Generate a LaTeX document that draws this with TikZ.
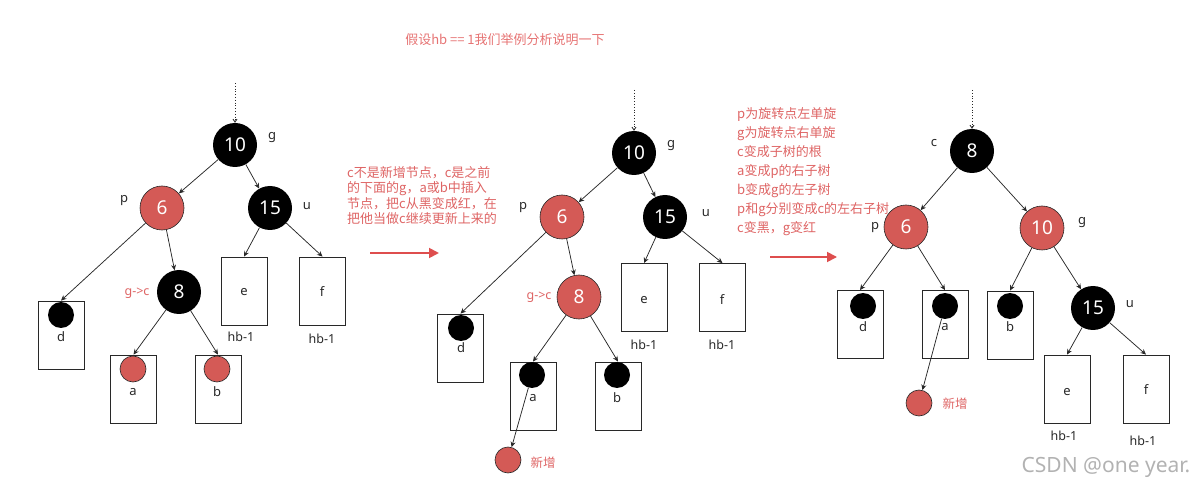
\documentclass[tikz,border=0pt]{standalone}
\usepackage{fontspec}
\setmainfont{Noto Sans}
\newfontfamily\cjk{Noto Sans CJK SC}
\usetikzlibrary{arrows.meta}
\definecolor{nodered}{RGB}{212,90,86}
\definecolor{txtred}{RGB}{222,100,100}
\definecolor{titlered}{RGB}{230,115,115}
\definecolor{arrred}{RGB}{222,78,78}
\definecolor{edge}{RGB}{40,40,40}
\begin{document}
\begin{tikzpicture}[x=1pt,y=-1pt,
  bnode/.style={circle,fill=black,minimum size=44pt,inner sep=0pt,text=white,font=\fontsize{19}{22}\selectfont},
  rnode/.style={circle,fill=nodered,draw=edge,line width=0.6pt,minimum size=44pt,inner sep=0pt,text=white,font=\fontsize{19}{22}\selectfont},
  bleaf/.style={circle,fill=black,minimum size=26pt,inner sep=0pt},
  rleaf/.style={circle,fill=nodered,draw=edge,line width=0.6pt,minimum size=26pt,inner sep=0pt},
  sub/.style={rectangle,draw=edge,line width=0.8pt,minimum width=46pt,minimum height=68pt,inner sep=0pt},
  lab/.style={font=\fontsize{13}{15}\selectfont,text=edge,inner sep=0pt},
  hlab/.style={font=\fontsize{12.5}{15}\selectfont,text=edge,inner sep=0pt},
  rlab/.style={font=\fontsize{12.5}{15}\selectfont,text=txtred,inner sep=0pt},
  conn/.style={draw=edge,line width=0.75pt,-{Stealth[length=5.5pt,width=5pt]}},
  topin/.style={draw=edge,line width=0.8pt,dotted,-{Straight Barb[length=3pt,width=4pt]}},
  bigarr/.style={draw=arrred,line width=1.8pt,-{Triangle[length=10pt,width=10pt]}},
  note/.style={font=\cjk\fontsize{13}{15.5}\selectfont,text=txtred,align=left,inner sep=0pt,anchor=north west}
]
\useasboundingbox (0,0) rectangle (1195,489);

% title
\node[font=\cjk\fontsize{13}{15}\selectfont,text=titlered] (title) at (505,40) {假设hb == 1我们举例分析说明一下};

% ---------------- tree 1 ----------------
\coordinate (top1) at (235,83);
\node[bnode] (a10) at (235,145) {10};
\node[rnode] (a6) at (162,208) {6};
\node[bnode] (a15) at (270,208) {15};
\node[bnode] (a8) at (179,292) {8};
\node[lab] (ag) at (272,138) {g};
\node[lab] (ap) at (124,201) {p};
\node[lab] (au) at (307,206) {u};
\node[rlab] (agc) at (137,293) {g->c};
\node[sub] (adbox) at (61,335) {};
\node[sub] (aabox) at (133.5,389) {};
\node[sub] (abbox) at (218,389) {};
\node[sub] (aebox) at (244,291) {};
\node[sub] (afbox) at (322.5,291) {};
\node[bleaf] (adc) at (61,315) {};
\node[rleaf] (aac) at (133,369) {};
\node[rleaf] (abc) at (217,369) {};
\node[lab] (adl) at (61,337) {d};
\node[lab] (aal) at (133,392) {a};
\node[lab] (abl) at (217,392) {b};
\node[lab] (ael) at (244,292) {e};
\node[lab] (afl) at (322,292) {f};
\node[hlab] (ah1) at (241,337) {hb-1};
\node[hlab] (ah2) at (322,339) {hb-1};
\draw[topin] (top1) -- (a10);
\draw[conn] (a10) -- (a6);
\draw[conn] (a10) -- (a15);
\draw[conn] (a6) -- (adbox.north);
\draw[conn] (a6) -- (a8);
\draw[conn] (a8) -- (aabox.north);
\draw[conn] (a8) -- (abbox.north);
\draw[conn] (a15) -- (aebox.north);
\draw[conn] (a15) -- (afbox.north);

% note 1 and arrow
\node[note] (note1) at (347,166) {c不是新增节点，c是之前\\的下面的g，a或b中插入\\节点，把c从黑变成红，在\\把他当做c继续更新上来的};
\coordinate (arr1s) at (370,253);
\coordinate (arr1e) at (439,253);
\draw[bigarr] (arr1s) -- (arr1e);

% ---------------- tree 2 ----------------
\coordinate (top2) at (634,90);
\node[bnode] (b10) at (634,153) {10};
\node[rnode] (b6) at (562,217) {6};
\node[bnode] (b15) at (665,217) {15};
\node[rnode] (b8) at (579,297) {8};
\node[lab] (bg) at (671,146) {g};
\node[lab] (bp) at (523,208) {p};
\node[lab] (bu) at (706,213) {u};
\node[rlab] (bgc) at (539,297) {g->c};
\node[sub] (bdbox) at (460.5,348) {};
\node[sub] (babox) at (533,396) {};
\node[sub] (bbbox) at (618,396) {};
\node[sub] (bebox) at (644,297.5) {};
\node[sub] (bfbox) at (722.5,297.5) {};
\node[bleaf] (bdc) at (461,328) {};
\node[bleaf] (bac) at (532,375) {};
\node[bleaf] (bbc) at (617,375) {};
\node[lab] (bdl) at (461,348) {d};
\node[lab] (bal) at (533,398) {a};
\node[lab] (bbl) at (617,398) {b};
\node[lab] (bel) at (644,300) {e};
\node[lab] (bfl) at (722,300) {f};
\node[hlab] (bh1) at (644,345) {hb-1};
\node[hlab] (bh2) at (722,345) {hb-1};
\node[rleaf] (bnew) at (508,460) {};
\node[font=\cjk\fontsize{12.5}{15}\selectfont,text=txtred,inner sep=0pt] (bnewl) at (543,463) {新增};
\draw[topin] (top2) -- (b10);
\draw[conn] (b10) -- (b6);
\draw[conn] (b10) -- (b15);
\draw[conn] (b6) -- (bdbox.north);
\draw[conn] (b6) -- (b8);
\draw[conn] (b8) -- (babox.north);
\draw[conn] (b8) -- (bbbox.north);
\draw[conn] (b15) -- (bebox.north);
\draw[conn] (b15) -- (bfbox.north);
\draw[conn] (bac) -- (bnew);

% note 2 and arrow
\node[note,font=\cjk\fontsize{13}{19}\selectfont] (note2) at (737,107) {p为旋转点左单旋\\g为旋转点右单旋\\c变成子树的根\\a变成p的右子树\\b变成g的左子树\\p和g分别变成c的左右子树\\c变黑，g变红};
\coordinate (arr2s) at (770,257);
\coordinate (arr2e) at (837,257);
\draw[bigarr] (arr2s) -- (arr2e);

% ---------------- tree 3 ----------------
\coordinate (top3) at (972,90);
\node[bnode] (c8) at (972,151) {8};
\node[rnode] (c6) at (906,227) {6};
\node[rnode] (c10) at (1042,228) {10};
\node[bnode] (c15) at (1093,308) {15};
\node[lab] (cc) at (934,143) {c};
\node[lab] (cp) at (875,228) {p};
\node[lab] (cg) at (1082,223) {g};
\node[lab] (cu) at (1130,304) {u};
\node[sub] (cdbox) at (860,324.5) {};
\node[sub] (cabox) at (945,324.5) {};
\node[sub] (cbbox) at (1010,325) {};
\node[sub] (cebox) at (1067,389) {};
\node[sub] (cfbox) at (1146,389) {};
\node[bleaf] (cdc) at (863,306) {};
\node[bleaf] (cac) at (945,306) {};
\node[bleaf] (cbc) at (1010,306) {};
\node[lab] (cdl) at (863,327) {d};
\node[lab] (cal) at (945,327) {a};
\node[lab] (cbl) at (1010,327) {b};
\node[lab] (cel) at (1067,392) {e};
\node[lab] (cfl) at (1146,390) {f};
\node[hlab] (ch1) at (1064,436) {hb-1};
\node[hlab] (ch2) at (1143,441) {hb-1};
\node[rleaf] (cnew) at (919,403) {};
\node[font=\cjk\fontsize{12.5}{15}\selectfont,text=txtred,inner sep=0pt] (cnewl) at (955,404) {新增};
\draw[topin] (top3) -- (c8);
\draw[conn] (c8) -- (c6);
\draw[conn] (c8) -- (c10);
\draw[conn] (c6) -- (cdbox.north);
\draw[conn] (c6) -- (cabox.north);
\draw[conn] (c10) -- (cbbox.north);
\draw[conn] (c10) -- (c15);
\draw[conn] (c15) -- (cebox.north);
\draw[conn] (c15) -- (cfbox.north);
\draw[conn] (cac) -- (cnew);

% watermark
\node[font=\fontsize{21}{23}\selectfont,text=black!30,inner sep=0pt] (wm) at (1106,467) {CSDN @one year.};
\end{tikzpicture}
\end{document}
